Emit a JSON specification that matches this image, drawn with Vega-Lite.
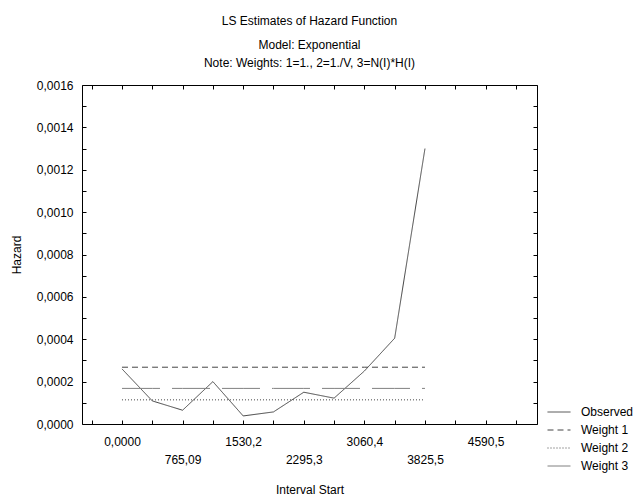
{
  "$schema": "https://vega.github.io/schema/vega-lite/v6.json",
  "width": 455,
  "height": 339,
  "autosize": "none",
  "padding": {"left": 82, "top": 85, "right": 103, "bottom": 71},
  "background": "white",
  "config": {
    "font": "Liberation Sans",
    "view": {"stroke": "#000", "strokeWidth": 1},
    "axis": {"labelFont": "Liberation Sans", "titleFont": "Liberation Sans", "labelFontSize": 12, "titleFontSize": 12, "titleFontWeight": "normal", "labelColor": "#000", "titleColor": "#000", "domainColor": "#000", "tickColor": "#000", "grid": false, "labelOverlap": false, "labelFlush": false}
  },
  "title": {
    "text": "LS Estimates of Hazard Function",
    "subtitle": ["Model: Exponential", "Note: Weights: 1=1., 2=1./V, 3=N(I)*H(I)"],
    "fontSize": 12, "fontWeight": "normal", "font": "Liberation Sans", "color": "#000",
    "subtitleFontSize": 12, "subtitleFont": "Liberation Sans", "subtitleColor": "#000",
    "subtitleLineHeight": 18, "subtitlePadding": 12,
    "anchor": "middle", "frame": "group", "offset": 9
  },
  "data": {"values": [
    {"series": "Observed", "start": 0, "hazard": 0.00026},
    {"series": "Observed", "start": 382.545, "hazard": 0.000109},
    {"series": "Observed", "start": 765.09, "hazard": 0.000065},
    {"series": "Observed", "start": 1147.635, "hazard": 0.0002},
    {"series": "Observed", "start": 1530.18, "hazard": 0.000038},
    {"series": "Observed", "start": 1912.725, "hazard": 0.000057},
    {"series": "Observed", "start": 2295.27, "hazard": 0.00015},
    {"series": "Observed", "start": 2677.815, "hazard": 0.000122},
    {"series": "Observed", "start": 3060.36, "hazard": 0.00025},
    {"series": "Observed", "start": 3442.905, "hazard": 0.000405},
    {"series": "Observed", "start": 3825.45, "hazard": 0.0013},
    {"series": "Weight 1", "start": 0, "hazard": 0.000268},
    {"series": "Weight 1", "start": 382.545, "hazard": 0.000268},
    {"series": "Weight 1", "start": 765.09, "hazard": 0.000268},
    {"series": "Weight 1", "start": 1147.635, "hazard": 0.000268},
    {"series": "Weight 1", "start": 1530.18, "hazard": 0.000268},
    {"series": "Weight 1", "start": 1912.725, "hazard": 0.000268},
    {"series": "Weight 1", "start": 2295.27, "hazard": 0.000268},
    {"series": "Weight 1", "start": 2677.815, "hazard": 0.000268},
    {"series": "Weight 1", "start": 3060.36, "hazard": 0.000268},
    {"series": "Weight 1", "start": 3442.905, "hazard": 0.000268},
    {"series": "Weight 1", "start": 3825.45, "hazard": 0.000268},
    {"series": "Weight 2", "start": 0, "hazard": 0.000114},
    {"series": "Weight 2", "start": 382.545, "hazard": 0.000114},
    {"series": "Weight 2", "start": 765.09, "hazard": 0.000114},
    {"series": "Weight 2", "start": 1147.635, "hazard": 0.000114},
    {"series": "Weight 2", "start": 1530.18, "hazard": 0.000114},
    {"series": "Weight 2", "start": 1912.725, "hazard": 0.000114},
    {"series": "Weight 2", "start": 2295.27, "hazard": 0.000114},
    {"series": "Weight 2", "start": 2677.815, "hazard": 0.000114},
    {"series": "Weight 2", "start": 3060.36, "hazard": 0.000114},
    {"series": "Weight 2", "start": 3442.905, "hazard": 0.000114},
    {"series": "Weight 2", "start": 3825.45, "hazard": 0.000114},
    {"series": "Weight 3", "start": 0, "hazard": 0.000168},
    {"series": "Weight 3", "start": 382.545, "hazard": 0.000168},
    {"series": "Weight 3", "start": 765.09, "hazard": 0.000168},
    {"series": "Weight 3", "start": 1147.635, "hazard": 0.000168},
    {"series": "Weight 3", "start": 1530.18, "hazard": 0.000168},
    {"series": "Weight 3", "start": 1912.725, "hazard": 0.000168},
    {"series": "Weight 3", "start": 2295.27, "hazard": 0.000168},
    {"series": "Weight 3", "start": 2677.815, "hazard": 0.000168},
    {"series": "Weight 3", "start": 3060.36, "hazard": 0.000168},
    {"series": "Weight 3", "start": 3442.905, "hazard": 0.000168},
    {"series": "Weight 3", "start": 3825.45, "hazard": 0.000168}
  ]},
  "layer": [
    {
      "mark": {"type": "line", "strokeWidth": 1, "clip": true},
      "encoding": {
        "x": {"field": "start", "type": "quantitative",
          "scale": {"domain": [-505, 5240], "nice": false, "zero": false},
          "axis": {"title": "Interval Start", "titlePadding": 19,
            "values": [-382.54575, 0, 382.54575, 765.0915, 1147.63725, 1530.183, 1912.72875, 2295.2745, 2677.82025, 3060.366, 3442.91175, 3825.4575, 4208.00325, 4590.549, 4973.09475],
            "tickSize": -4, "domain": false,
            "labelExpr": "datum.value < -1 ? '' : (abs(datum.value) < 1 ? '0,0000' : (round(datum.value/382.54575) % 2 == 0 ? replace(format(datum.value, '.5r'), '.', ',') : ''))",
            "labelPadding": {"condition": {"test": "round(datum.value/382.54575) % 4 == 2", "value": 34}, "value": 16}
          }
        },
        "y": {"field": "hazard", "type": "quantitative",
          "scale": {"domain": [0, 0.0016], "nice": false},
          "axis": {"title": "Hazard", "titlePadding": 13,
            "values": [0, 0.0001, 0.0002, 0.0003, 0.0004, 0.0005, 0.0006, 0.0007, 0.0008, 0.0009, 0.001, 0.0011, 0.0012, 0.0013, 0.0014, 0.0015, 0.0016],
            "tickSize": -4, "domain": false, "labelPadding": 13,
            "labelExpr": "round(datum.value*10000) % 2 == 0 ? replace(format(datum.value, '.4f'), '.', ',') : ''"
          }
        },
        "color": {"field": "series", "type": "nominal",
          "scale": {"domain": ["Observed", "Weight 1", "Weight 2", "Weight 3"], "range": ["#444444", "#444444", "#444444", "#808080"]},
          "legend": {"title": null, "orient": "none", "legendX": 465, "legendY": 319, "symbolType": "stroke", "symbolSize": 529, "symbolStrokeWidth": 1, "labelFontSize": 12, "labelFont": "Liberation Sans", "labelColor": "#000", "labelOffset": 10, "rowPadding": 2, "clipHeight": 16}
        },
        "strokeDash": {"field": "series", "type": "nominal",
          "scale": {"domain": ["Observed", "Weight 1", "Weight 2", "Weight 3"], "range": [[1, 0], [6, 4], [1, 2], [38, 12]]},
          "legend": {"title": null, "orient": "none", "legendX": 465, "legendY": 319, "symbolType": "stroke", "symbolSize": 529, "labelFontSize": 12, "labelOffset": 10, "rowPadding": 2, "clipHeight": 16}
        }
      }
    },
    {
      "mark": {"type": "point", "opacity": 0},
      "encoding": {
        "x": {"field": "start", "type": "quantitative",
          "scale": {"domain": [-505, 5240], "nice": false, "zero": false},
          "axis": {"orient": "top", "title": null, "labels": false, "domain": false, "tickSize": -4,
            "values": [-382.54575, 0, 382.54575, 765.0915, 1147.63725, 1530.183, 1912.72875, 2295.2745, 2677.82025, 3060.366, 3442.91175, 3825.4575, 4208.00325, 4590.549, 4973.09475]}
        },
        "y": {"field": "hazard", "type": "quantitative",
          "scale": {"domain": [0, 0.0016], "nice": false},
          "axis": {"orient": "right", "title": null, "labels": false, "domain": false, "tickSize": -4,
            "values": [0, 0.0001, 0.0002, 0.0003, 0.0004, 0.0005, 0.0006, 0.0007, 0.0008, 0.0009, 0.001, 0.0011, 0.0012, 0.0013, 0.0014, 0.0015, 0.0016]}
        }
      }
    }
  ],
  "resolve": {"scale": {"x": "independent", "y": "independent"}, "axis": {"x": "independent", "y": "independent"}}
}
